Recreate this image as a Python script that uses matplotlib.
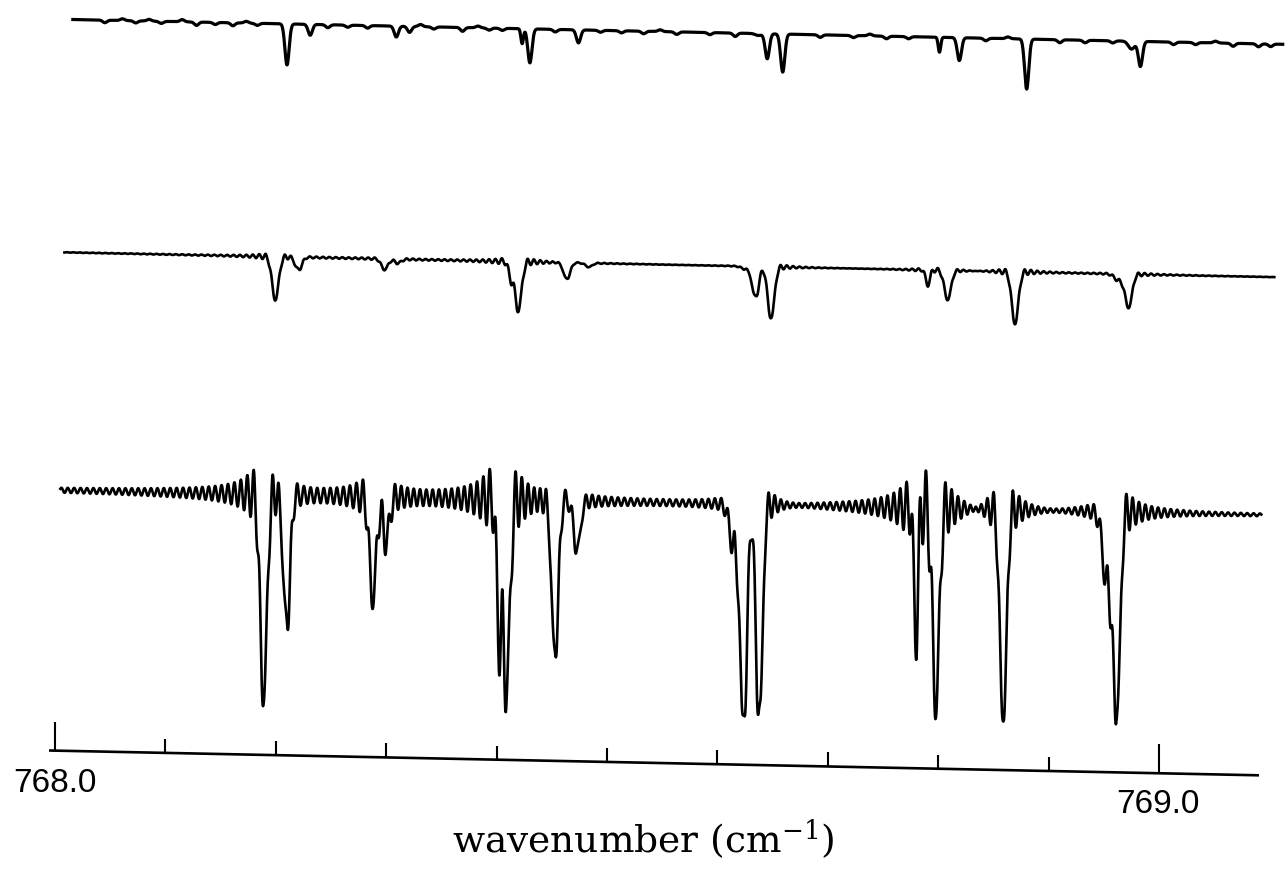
import numpy as np
import matplotlib
matplotlib.use("Agg")
import matplotlib.pyplot as plt
from matplotlib.transforms import Affine2D

# ---------------- data ----------------
# absorption line centres (cm^-1), common to the three traces
line_centers = [768.177, 768.198, 768.276, 768.288, 768.390, 768.397,
                768.441, 768.461, 768.604, 768.612, 768.626, 768.768,
                768.786, 768.847, 768.942, 768.950]
# relative line widths (1 = typical line)
line_width_scale = [1.0, 1.0, 1.0, 1.0, 0.6, 1.0, 1.0, 1.0,
                    1.5, 1.0, 1.0, 0.6, 1.0, 1.0, 1.5, 1.0]
# line depths for each trace (units: depth of the strongest bottom line = 1)
depth_top = [0.192, 0.051, 0.051, 0.028, 0.070, 0.159, 0.061, 0.009,
             0.009, 0.117, 0.178, 0.070, 0.107, 0.234, 0.037, 0.117]
depth_mid = [0.206, 0.061, 0.051, 0.019, 0.080, 0.235, 0.079, 0.019,
             0.014, 0.145, 0.248, 0.075, 0.140, 0.248, 0.033, 0.155]
depth_bot = [1.00, 0.64, 0.50, 0.21, 0.68, 0.94, 0.76, 0.24,
             0.21, 1.04, 1.05, 0.66, 0.96, 1.03, 0.36, 0.93]
# weak features (noise) visible on the top trace (negative = upward)
weak_top_centers = [768.012, 768.028, 768.040, 768.052, 768.063, 768.082,
                    768.095, 768.112, 768.128, 768.140, 768.150, 768.214,
                    768.232, 768.250, 768.298, 768.310, 768.336, 768.350,
                    768.360, 768.372, 768.420, 768.480, 768.500, 768.515,
                    768.530, 768.560, 768.583, 768.660, 768.690, 768.705,
                    768.720, 768.740, 768.810, 768.830, 768.877, 768.900,
                    768.925, 768.980, 769.000, 769.018, 769.034, 769.057,
                    769.068]
weak_top_depths = [0.012, -0.008, 0.010, -0.008, 0.010, -0.010,
                   0.016, 0.010, 0.014, -0.008, 0.010, 0.014,
                   0.010, 0.012, -0.010, 0.010, 0.018, -0.008,
                   0.010, 0.010, 0.012, 0.010, 0.012, -0.008,
                   0.012, 0.010, 0.016, 0.012, 0.010, -0.008,
                   0.012, 0.010, 0.012, -0.008, 0.014, 0.012,
                   0.010, 0.012, 0.010, -0.008, 0.014, 0.014,
                   0.012]
# wavenumber span covered by each trace
range_top = (767.983, 769.079)
range_mid = (767.986, 769.082)
range_bot = (767.993, 769.081)

tick_values = [768.0, 768.1, 768.2, 768.3, 768.4, 768.5, 768.6, 768.7,
               768.8, 768.9, 769.0]
tick_labels = {768.0: "768.0", 769.0: "769.0"}
x_label = "wavenumber (cm$^{\\mathregular{-1}}$)"

# ---------------- rendering parameters ----------------
W, H = 1286, 888
PX_PER_CM = 1104.0          # pixels per cm^-1
X_768 = 55.0                # pixel column of 768.0
PX_PER_UNIT = 214.0         # pixels per depth unit
SIG = 0.0029                # line width (gaussian sigma, cm^-1)
SIG_TOP = 0.0019
PER = 0.0058                # ringing period (cm^-1)

fig = plt.figure(figsize=(W / 100, H / 100), dpi=100)
ax = fig.add_axes([0, 0, 1, 1])
ax.axis("off")
ax.set_xlim(768 - X_768 / PX_PER_CM, 768 + (W - X_768) / PX_PER_CM)
ax.set_ylim(0, H / PX_PER_UNIT)

# the scanned page is slightly tilted; traces are offset sideways
ky, px_left = 0.0205, 49.0
tilt = Affine2D(np.array([[1.0, 0.0, 0.0],
                          [-ky, 1.0, ky * px_left],
                          [0.0, 0.0, 1.0]]))
tr_axis = ax.transData + tilt
tr_top = ax.transData + Affine2D().translate(36.6, 0) + tilt
tr_mid = ax.transData + Affine2D().translate(24.9, 0) + tilt
tr_bot = ax.transData + Affine2D().translate(13.1, 0) + tilt


def spectrum(span, centers, depths, widths, ring, sig):
    w = np.arange(span[0], span[1], 0.0003)
    y = np.zeros_like(w)
    for c, d, s in zip(centers, depths, widths):
        dx = w - c
        sg = sig * s
        y -= d * np.exp(-0.5 * (dx / sg) ** 2)
        if ring:
            env = PER / (PER + np.pi * np.abs(dx))
            core = 1 - np.exp(-(dx / (2 * sig)) ** 2)
            y -= ring * d * np.cos(2 * np.pi * dx / PER) * env * core
    return w, y


n_weak = len(weak_top_centers)
w_top, y_top = spectrum(range_top, line_centers + weak_top_centers,
                        depth_top + weak_top_depths,
                        line_width_scale + [1.0] * n_weak, 0.0, SIG_TOP)
w_mid, y_mid = spectrum(range_mid, line_centers, depth_mid,
                        line_width_scale, 0.45, SIG)
w_bot, y_bot = spectrum(range_bot, line_centers, depth_bot,
                        line_width_scale, 0.85, SIG)

base_top = (H - 19) / PX_PER_UNIT
base_mid = (H - 252) / PX_PER_UNIT
base_bot = (H - 490) / PX_PER_UNIT

ax.plot(w_top, base_top + y_top, color="black", lw=2.3, transform=tr_top,
        solid_joinstyle="round")
ax.plot(w_mid, base_mid + y_mid, color="black", lw=1.9, transform=tr_mid,
        solid_joinstyle="round")
ax.plot(w_bot, base_bot + y_bot, color="black", lw=1.9, transform=tr_bot,
        solid_joinstyle="round")

# x axis with upward ticks
axis_y = (H - 750.5) / PX_PER_UNIT
ax.plot([768 + (49 - X_768) / PX_PER_CM, 768 + (1259 - X_768) / PX_PER_CM],
        [axis_y, axis_y], color="black", lw=1.9, transform=tr_axis,
        solid_capstyle="butt")
for t in tick_values:
    h = (29 if t in tick_labels else 14) / PX_PER_UNIT
    ax.plot([t, t], [axis_y, axis_y + h], color="black", lw=1.5,
            transform=tr_axis, solid_capstyle="butt")

label_px = {768.0: (55, 792), 769.0: (1158, 813)}
for t, s in tick_labels.items():
    xp, yp = label_px[t]
    fig.text(xp / W, 1 - yp / H, s, ha="center", va="baseline",
             fontsize=24, family="Liberation Sans")

plt.rcParams["mathtext.fontset"] = "dejavuserif"
fig.text(643 / W, 1 - 853 / H, x_label, ha="center", va="baseline",
         fontsize=27, family="DejaVu Serif")

fig.savefig("out.png", dpi=100)
